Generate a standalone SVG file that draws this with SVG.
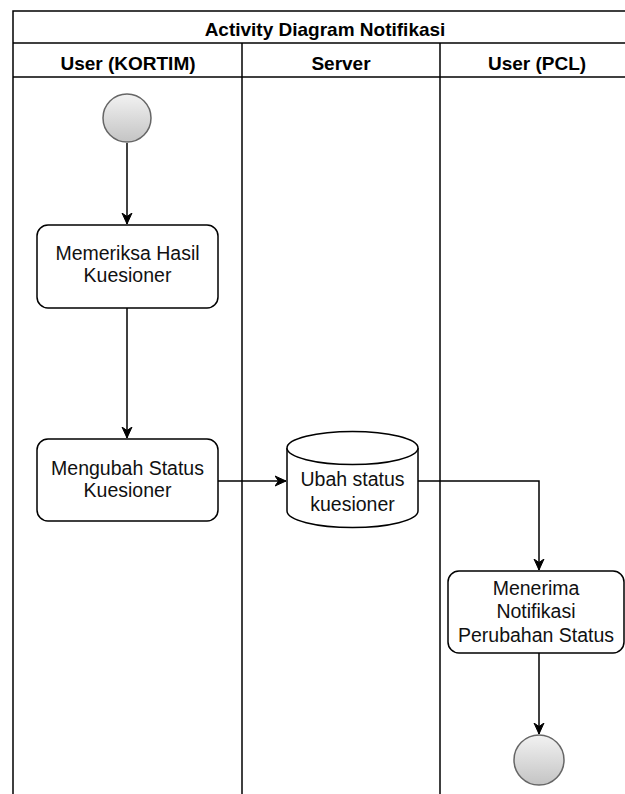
<svg xmlns="http://www.w3.org/2000/svg" width="625" height="794" viewBox="0 0 625 794">
  <style>
    .frame { fill: none; stroke: #000; stroke-width: 1.5; }
    .head { font-family: "Liberation Sans", Arial, sans-serif; font-weight: bold; font-size: 19px; fill: #000; text-anchor: middle; }
    .act { fill: #fff; stroke: #000; stroke-width: 1.5; }
    .lbl { font-family: "Liberation Sans", Arial, sans-serif; font-size: 19.5px; fill: #111; text-anchor: middle; }
    .state { fill: url(#stateFill); stroke: #666; stroke-width: 1.5; }
    .edge { fill: none; stroke: #000; stroke-width: 1.5; marker-end: url(#arrow); }
  </style>
  <defs>
    <linearGradient id="stateFill" x1="0" y1="0" x2="0" y2="1">
      <stop offset="0" stop-color="#f2f2f2"/>
      <stop offset="1" stop-color="#c4c4c4"/>
    </linearGradient>
    <marker id="arrow" markerUnits="userSpaceOnUse" markerWidth="14" markerHeight="14" refX="11" refY="6" orient="auto">
      <path d="M0,1 L11,6 L0,11 L3.5,6 Z" fill="#000" stroke="#000" stroke-width="1"/>
    </marker>
  </defs>

  <rect width="625" height="794" fill="#fff"/>

  <!-- swimlane pool -->
  <g id="pool">
    <rect class="frame" x="13" y="11" width="624" height="800"/>
    <line class="frame" x1="13" y1="43" x2="637" y2="43"/>
    <line class="frame" x1="13" y1="77" x2="637" y2="77"/>
    <line class="frame" x1="242" y1="43" x2="242" y2="800"/>
    <line class="frame" x1="440" y1="43" x2="440" y2="800"/>
    <text class="head" x="325" y="36">Activity Diagram Notifikasi</text>
    <text class="head" x="128" y="70">User (KORTIM)</text>
    <text class="head" x="341" y="70">Server</text>
    <text class="head" x="537" y="70">User (PCL)</text>
  </g>

  <!-- connectors -->
  <g id="edges">
    <path class="edge" d="M127,143 V224"/>
    <path class="edge" d="M127,308 V438"/>
    <path class="edge" d="M218,481 H286"/>
    <path class="edge" d="M418,481 H539 V570"/>
    <path class="edge" d="M539,653 V734"/>
  </g>

  <g id="start">
    <circle class="state" cx="127" cy="118" r="24"/>
  </g>

  <g id="memeriksa">
    <rect class="act" x="37" y="225" width="181" height="83" rx="11"/>
    <text class="lbl" x="127.5" y="260">Memeriksa Hasil</text>
    <text class="lbl" x="127.5" y="282">Kuesioner</text>
  </g>

  <g id="mengubah">
    <rect class="act" x="37" y="439" width="181" height="82" rx="11"/>
    <text class="lbl" x="127.5" y="475">Mengubah Status</text>
    <text class="lbl" x="127.5" y="497">Kuesioner</text>
  </g>

  <g id="ubah-status">
    <path class="act" d="M287,448 A65.5,16.5 0 0 1 418,448 V511 A65.5,16.5 0 0 1 287,511 Z"/>
    <path class="act" fill="none" d="M287,448 A65.5,16.5 0 0 0 418,448"/>
    <text class="lbl" x="352.5" y="486">Ubah status</text>
    <text class="lbl" x="352.5" y="511">kuesioner</text>
  </g>

  <g id="menerima">
    <rect class="act" x="448" y="571" width="176" height="82" rx="11"/>
    <text class="lbl" x="536" y="595">Menerima</text>
    <text class="lbl" x="536" y="618">Notifikasi</text>
    <text class="lbl" x="536" y="642">Perubahan Status</text>
  </g>

  <g id="end">
    <circle class="state" cx="539" cy="760" r="25"/>
  </g>
</svg>
